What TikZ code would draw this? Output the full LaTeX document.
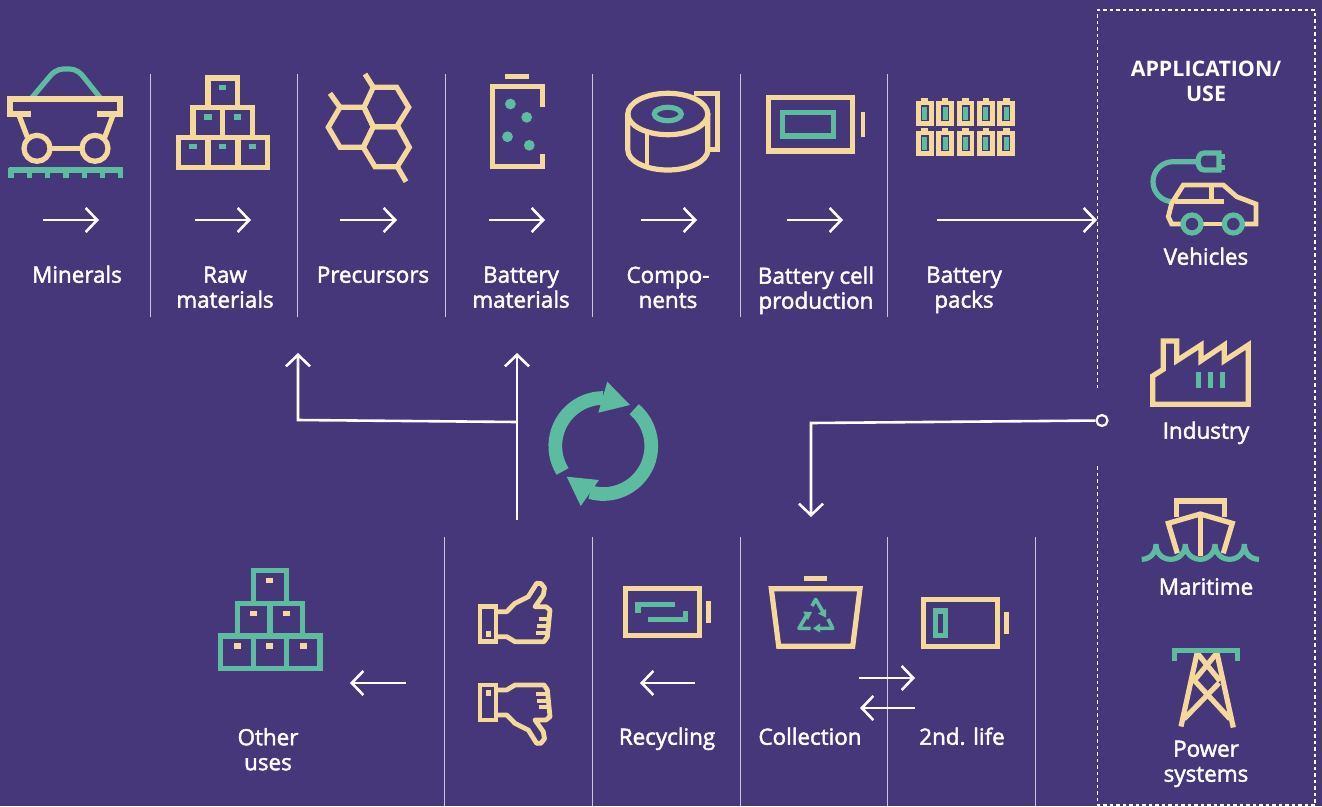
\documentclass[tikz,border=0pt]{standalone}
\usepackage{fontspec}
\setmainfont{Open Sans}
\newfontfamily\labfont{Open Sans}[FakeBold=2]
\usetikzlibrary{arrows.meta}
\definecolor{bgc}{HTML}{46367A}
\definecolor{cream}{HTML}{F4D99B}
\definecolor{mint}{HTML}{5DBB9F}
\tikzset{
  x=1pt,y=-1pt,
  cr/.style={draw=cream,line width=5.2pt,line cap=butt,line join=miter,fill=none},
  mt/.style={draw=mint,line width=5.2pt,line cap=butt,line join=miter,fill=none},
  sep/.style={draw=white!72!bgc,line width=1.2pt},
  flow/.style={draw=white,line width=2.6pt,-{Straight Barb[length=11.5pt,width=24pt,line width=2.6pt]}},
  lab/.style={text=white,align=center,anchor=north,inner sep=0pt,font=\fontsize{22.4}{25}\labfont,execute at begin node=\strut},
  dashbox/.style={draw=white,line width=1.2pt,dash pattern=on 3.5pt off 3pt},
}
\newcommand{\mk}[3]{\fill[#1] (#2-3.7,#3-2.6) rectangle (#2+3.7,#3+2.6);}
\begin{document}
\begin{tikzpicture}
\useasboundingbox (0,0) rectangle (1322,806);
\fill[bgc] (0,0) rectangle (1322,806);

% separators
\foreach \n/\x in {1/150.5,2/297.5,3/445.5,4/592.5,5/740.5,6/887.5}{
  \coordinate (st\n) at (\x,74); \coordinate (sb\n) at (\x,317);
  \draw[sep] (st\n) -- (sb\n);}
\foreach \n/\x in {1/444.5,2/592.5,3/740.5,4/887.5,5/1035.5}{
  \coordinate (lt\n) at (\x,537); \coordinate (lb\n) at (\x,806);
  \draw[sep] (lt\n) -- (lb\n);}

% minerals cart
\draw[mt] (32,97.5) -- (51,75) .. controls (57,69) and (61,69) .. (66.7,69) .. controls (72,69) and (76,69) .. (82,75) -- (100,97.5);
\draw[cr] (31,114) -- (10,114) -- (10,99) -- (120,99) -- (120,114) -- (97,114);
\draw[cr] (19.3,116) -- (27.3,137);
\draw[cr] (112.7,116) -- (104.5,138);
\draw[cr] (37,148.3) circle[radius=13pt];
\draw[cr] (95,148.3) circle[radius=13pt];
\draw[cr] (50,148.3) -- (82,148.3);
\draw[mt] (8.7,170) -- (122.7,170);
\foreach \x in {11,29.3,47.7,66,84.3,102.7,120.3}{\draw[mt] (\x,168) -- (\x,177.5);}

% raw materials pile
\draw[cr] (178.3,137.7) rectangle (208,167.3) (208,137.7) rectangle (238,167.3) (238,137.7) rectangle (267.7,167.3)
  (193,107.7) rectangle (222.7,137.7) (222.7,107.7) rectangle (252.3,137.7)
  (208,78) rectangle (237.3,107.7);
\mk{mint}{222.7}{87.3}\mk{mint}{208}{117}\mk{mint}{237.3}{117}\mk{mint}{193}{146.7}\mk{mint}{222.7}{146.7}\mk{mint}{252.7}{146.7}

% precursors hexagons
\draw[cr] (373.3,87.3)--(396.7,87.3)--(408.7,107.3)--(396.7,126.7)--(373.3,126.7)--(364,107.3)--cycle;
\draw[cr] (340,107.3)--(364,107.3)--(373.3,126.7)--(363.3,147.3)--(340,147.3)--(328.3,127.3)--cycle;
\draw[cr] (373.3,126.7)--(398,126.7)--(409.3,147.3)--(397.3,166.7)--(375,166.7)--(363.3,147.3)--cycle;
\draw[cr] (365,74)--(373.3,87.3) (330,93.3)--(340,107.3) (397.3,166.7)--(406,181.7);

% battery materials
\fill[cream] (505.3,74.3) rectangle (529.3,79.3);
\draw[cr] (542.4,106.7)--(542.4,86.7)--(492.2,86.7)--(492.2,166.3)--(542.4,166.3)--(542.4,154.3);
\fill[mint] (510.4,104) circle[radius=5.4pt] (526.7,117.3) circle[radius=5.4pt] (507.5,136.7) circle[radius=5.4pt] (529.3,145.3) circle[radius=5.4pt];

% components roll
\draw[cr] (694.4,93.3)--(717.3,93.3)--(717.3,149.3)--(709.3,149.3);
\draw[cr] (667.8,114) ellipse[x radius=40pt,y radius=20.7pt];
\draw[cr,line cap=round] (627.8,114) -- (627.8,150) arc[start angle=180,end angle=360,x radius=40pt,y radius=20pt] -- (707.8,114);
\draw[cr,line width=4.4pt] (646.7,134) -- (646.7,166);
\draw[mt] (667.8,114) ellipse[x radius=13.5pt,y radius=6.7pt];

% battery cell
\draw[cr] (768.5,97.7) rectangle (852.2,151);
\draw[mt] (782.7,112.3) rectangle (833.6,136);
\fill[cream] (860.5,111.7) rectangle (865.3,137);

% battery packs
\foreach \x in {915.8,936.2,956.6,977,997.3}{\foreach \y in {100.7,130.7}{
  \fill[cream] (\x,\y) rectangle (\x+17.8,\y+25.3);
  \fill[cream] (\x+5.6,\y-2.8) rectangle (\x+12.2,\y);
  \fill[bgc] (\x+4.9,\y+4.7) rectangle (\x+12.9,\y+20.4);
  \fill[mint] (\x+6.4,\y+6.2) rectangle (\x+11.4,\y+18.9);}}

% top labels
\node[lab] (minerals) at (77,265) {Minerals};
\node[lab] (raw) at (225,266.5) {Raw\\materials};
\node[lab] (prec) at (373,265) {Precursors};
\node[lab] (batmat) at (521,266.5) {Battery\\materials};
\node[lab] (comp) at (668,266.5) {Compo-\\nents};
\node[lab] (cell) at (816,266.5) {Battery cell\\production};
\node[lab] (packs) at (964,266.5) {Battery\\packs};

% top arrows
\foreach \n/\a/\b in {1/43/99,2/195/251,3/340/397,4/489/545,5/641/697,6/787/843,7/937/1097}{
  \coordinate (as\n) at (\a,220); \coordinate (ae\n) at (\b,220);
  \draw[flow] (as\n) -- (ae\n);}

% application box
\coordinate (d1) at (1097.5,388); \coordinate (d2) at (1097.5,10); \coordinate (d3) at (1315,10);
\coordinate (d4) at (1315,805); \coordinate (d5) at (1097.5,805); \coordinate (d6) at (1097.5,465);
\draw[dashbox] (d1)--(d2)--(d3)--(d4)--(d5)--(d6);
\node[lab,font=\fontsize{21.4}{25}\selectfont\bfseries] (app) at (1206,60.5) {APPLICATION/\\USE};

% vehicles
\draw[mt] (1196,161.7) -- (1173,161.7) arc[start angle=90,end angle=270,radius=20pt];
\draw[mt] (1219,153) -- (1204,153) .. controls (1196,153) and (1196,170) .. (1204,170) -- (1219,170) -- cycle;
\draw[mt] (1219,156.7)--(1225,156.7) (1219,167.3)--(1225,167.3);
\draw[cr,line width=4.8pt] (1243,224)--(1256,224)--(1256,204)--(1236.7,196.7)--(1223.3,185)--(1183.3,185)--(1171.7,203.3)--(1168.3,216.7)--(1171.7,224)--(1183,224);
\draw[cr,line width=4.8pt] (1202,224)--(1224,224) (1175,201.7)--(1224,201.7) (1211.7,185)--(1211.7,201.7);
\draw[mt] (1192,224) circle[radius=9pt] (1233.3,224) circle[radius=9pt];
\node[lab] (veh) at (1206,247) {Vehicles};

% industry
\draw[cr] (1152.7,404.3)--(1152.7,376)--(1163.3,369.3)--(1163.3,341)--(1176.7,341)--(1176.7,360.7)--(1201,345)--(1201,360.7)--(1224.3,345)--(1224.3,360.7)--(1248.3,345)--(1248.3,404.3)--cycle;
\draw[mt,line width=5.3pt] (1198.7,372.3)--(1198.7,387.7) (1210.3,372.3)--(1210.3,387.7) (1222.7,372.3)--(1222.7,387.7);
\node[lab] (ind) at (1206,421) {Industry};

% maritime
\draw[cr] (1176.7,516.7)--(1176.7,501)--(1224.3,501)--(1224.3,516.7);
\draw[cr] (1177.3,553.3)--(1168.3,523.3)--(1200.3,514)--(1232.3,523.3)--(1223.3,553.3);
\draw[cr] (1200.3,514)--(1200.3,556);
\draw[mt] (1141.7,559.3) .. controls (1150,559.3) and (1156,553) .. (1156,544)
  (1156,544) .. controls (1156,553) and (1162,559.3) .. (1170.7,559.3) .. controls (1179,559.3) and (1185.3,553) .. (1185.3,544)
  (1185.3,544) .. controls (1185.3,553) and (1192,559.3) .. (1200.3,559.3) .. controls (1208,559.3) and (1215,553) .. (1215,544)
  (1215,544) .. controls (1215,553) and (1221,559.3) .. (1229.7,559.3) .. controls (1238,559.3) and (1244.3,553) .. (1244.3,544)
  (1244.3,544) .. controls (1244.3,553) and (1250,559.3) .. (1259,559.3);
\node[lab] (mar) at (1206,577) {Maritime};

% power
\draw[cr] (1197.3,652)--(1181,726.5) (1216.7,652)--(1233.3,727.5);
\draw[cr] (1198,654)--(1220,681) (1216,654)--(1193,682) (1194,680)--(1230,719) (1219,683)--(1184,719);
\draw[mt] (1174.3,661.3)--(1174.3,650.3)--(1237.7,650.3)--(1237.7,661.3);
\node[lab] (pow) at (1206,740.5) {Power\\systems};

% recycle symbol
\coordinate (rc) at (603.3,446);
\draw[mint,line width=13.7pt] ([shift={(212:48pt)}]rc) arc[start angle=212,end angle=90,radius=48pt];
\draw[mint,line width=13.7pt] ([shift={(50:48pt)}]rc) arc[start angle=50,end angle=-106,radius=48pt];
\fill[mint] (607.3,381.7)--(630,405)--(598.3,412.7)--cycle;
\fill[mint] (566.7,476.7)--(599,480)--(580.7,506)--cycle;

% flows to recycling
\coordinate (r0) at (517,520); \coordinate (r1) at (517,353);
\draw[flow] (r0) -- (r1);
\coordinate (b0) at (517,422); \coordinate (b1) at (298,420); \coordinate (b2) at (298,353);
\draw[flow] (b0) -- (b1) -- (b2);
\node[circle,draw=white,line width=2.2pt,minimum size=11pt,inner sep=0pt] (hub) at (1102,420.5) {};
\coordinate (c1) at (811,423); \coordinate (c2) at (811,517);
\draw[flow] (hub) -- (c1) -- (c2);

% other uses pile
\draw[mt] (220.7,636) rectangle (253.7,668.7) (253.7,636) rectangle (286.7,668.7) (286.7,636) rectangle (320,668.7)
  (237.3,603.3) rectangle (270,636) (270,603.3) rectangle (302.7,636)
  (253.7,570.3) rectangle (286.7,603.3);
\mk{cream}{269.7}{580.7}\mk{cream}{253.7}{613.3}\mk{cream}{286.3}{613.3}\mk{cream}{237.3}{646}\mk{cream}{269.7}{646}\mk{cream}{303.3}{646}

% thumbs
\newcommand{\thumbicon}{%
  \draw[cr,line width=4.8pt] (480,606.7) rectangle (496,641.7);
  \fill[cream] (485.8,631) rectangle (491,637);
  \draw[cr,line width=4.8pt,line join=round] (496.7,611.7)--(506.7,611.7)--(515,603.3)--(528.3,596.7)--(536.7,583.3)--(541,583.5)--(544.5,588)--(543.3,595)--(535,606.7)--(546,606.7)--(550,610)--(547.3,637)--(544,641.7)--(515,641.7)--(506.7,636.7)--(496.7,636.7);
  \draw[cr,line width=3.8pt] (539.3,619.3)--(549,619.3) (537.3,626)--(548.5,626) (536,632.7)--(548,632.7);}
\thumbicon
\begin{scope}[shift={(0,1326.67)},yscale=-1]\thumbicon\end{scope}

% recycling battery
\draw[cr] (625.3,588.3) rectangle (699.3,635.3);
\fill[cream] (706.3,600.7) rectangle (711,623.3);
\draw[mt] (638,612.7)--(638,604.3)--(675,604.3);
\draw[mt] (648.3,619.3)--(685.7,619.3)--(685.7,610.7);

% bin
\fill[cream] (804.3,576) rectangle (827,581);
\draw[cr] (771.3,588.7)--(860,588.7)--(852.7,646.3)--(778.7,646.3)--cycle;
\draw[mint,line width=3.6pt,line join=round] (810.7,628.3)--(799,628.3)--(808,613);
\draw[mint,line width=3.6pt,line join=round] (812,606)--(815.7,599.3)--(823,612);
\draw[mint,line width=3.6pt,line join=round] (828,619)--(832.7,628.3)--(817,628.3);
\fill[mint] (803,611.5)--(812,612)--(808,620)--cycle;
\fill[mint] (826,609)--(826,617.5)--(818,613.5)--cycle;
\fill[mint] (820,623.5)--(820,632.5)--(813,628.3)--cycle;

% second life battery
\draw[cr] (923.3,599.3) rectangle (997.7,646.7);
\fill[cream] (1004.3,612) rectangle (1009.3,634.3);
\draw[mt] (935.7,611) rectangle (945.7,635.7);

% bottom arrows
\foreach \n/\a/\b/\y in {1/406/350/683,2/695/640/683,3/859/915/678,4/915/860/708}{
  \coordinate (ps\n) at (\a,\y); \coordinate (pe\n) at (\b,\y);
  \draw[flow] (ps\n) -- (pe\n);}

% bottom labels
\node[lab] (other) at (268,728) {Other\\uses};
\node[lab] (recy) at (667,727) {Recycling};
\node[lab] (coll) at (810,727) {Collection};
\node[lab] (life) at (962,727) {2nd. life};
\end{tikzpicture}
\end{document}
